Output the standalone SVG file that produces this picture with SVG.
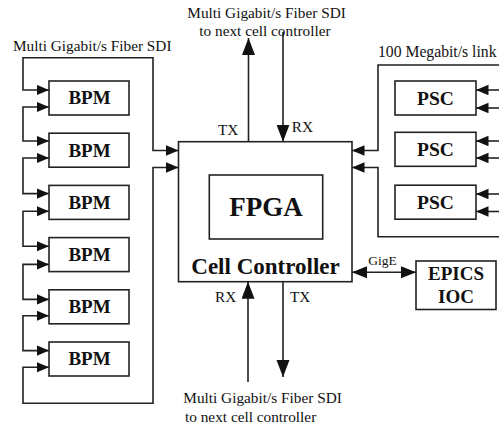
<svg xmlns="http://www.w3.org/2000/svg" width="499" height="427" viewBox="0 0 499 427">
<style>
.box{fill:#fff;stroke:#222;stroke-width:1.6}
.ln{fill:none;stroke:#222;stroke-width:1.6}
.t{font-size:15.3px;fill:#111}
.b{font-weight:bold;fill:#111;text-anchor:middle}
</style>
<defs>
<marker id="a" markerUnits="userSpaceOnUse" markerWidth="13" markerHeight="11" refX="12.5" refY="5.25" orient="auto-start-reverse"><path d="M0,0 L12.5,5.25 L0,10.5 z" fill="#111"/></marker>
<marker id="A" markerUnits="userSpaceOnUse" markerWidth="18" markerHeight="14" refX="17" refY="6.5" orient="auto-start-reverse"><path d="M0,0 L17,6.5 L0,13 z" fill="#111"/></marker>
<marker id="g" markerUnits="userSpaceOnUse" markerWidth="16" markerHeight="12" refX="15" refY="6" orient="auto-start-reverse"><path d="M0,0 L15,6 L0,12 z" fill="#111"/></marker>
</defs>

<g id="connectors">
<path class="ln" d="M49,90 H23 V57.7 H153 V150.5 H178.5" marker-start="url(#a)" marker-end="url(#a)"/>
<path class="ln" d="M49,107 H23 V141 H49" marker-start="url(#a)" marker-end="url(#a)"/>
<path class="ln" d="M49,158 H23 V193.6 H49" marker-start="url(#a)" marker-end="url(#a)"/>
<path class="ln" d="M49,211.2 H23 V246.2 H49" marker-start="url(#a)" marker-end="url(#a)"/>
<path class="ln" d="M49,264.4 H23 V299.4 H49" marker-start="url(#a)" marker-end="url(#a)"/>
<path class="ln" d="M49,315.8 H23 V350.6 H49" marker-start="url(#a)" marker-end="url(#a)"/>
<path class="ln" d="M49,367.2 H23 V403.3 H153 V167.5 H178.5" marker-start="url(#a)" marker-end="url(#a)"/>
<path class="ln" d="M499,65 H378 V150.5 H352" marker-end="url(#a)"/>
<path class="ln" d="M499,236.7 H378 V167.5 H352" marker-end="url(#a)"/>
<path class="ln" d="M499,90 H476" marker-end="url(#a)"/>
<path class="ln" d="M499,108 H476" marker-end="url(#a)"/>
<path class="ln" d="M499,141 H476" marker-end="url(#a)"/>
<path class="ln" d="M499,158 H476" marker-end="url(#a)"/>
<path class="ln" d="M499,194 H476" marker-end="url(#a)"/>
<path class="ln" d="M499,211.5 H476" marker-end="url(#a)"/>
<path class="ln" d="M248.5,141.7 V38" marker-end="url(#A)"/>
<path class="ln" d="M283,32 V141.7" marker-end="url(#A)"/>
<path class="ln" d="M248,382 V281.7" marker-end="url(#A)"/>
<path class="ln" d="M283,281.7 V377" marker-end="url(#A)"/>
<path class="ln" d="M352,272.3 H416" marker-start="url(#g)" marker-end="url(#g)"/>
</g>

<g font-family="Liberation Serif, Times New Roman, DejaVu Serif, serif">
<g id="cell-controller">
<rect class="box" x="178.5" y="141.7" width="173.5" height="140"/>
<text class="b" x="265.5" y="273.5" font-size="23">Cell Controller</text>
</g>
<g id="fpga">
<rect class="box" x="209.3" y="175" width="113.4" height="64"/>
<text class="b" x="266" y="216" font-size="27">FPGA</text>
</g>

<g id="bpm1"><rect class="box" x="49" y="81" width="80" height="34"/><text class="b" x="89.5" y="104.3" font-size="19">BPM</text></g>
<g id="bpm2"><rect class="box" x="49" y="133.2" width="80" height="34"/><text class="b" x="89.5" y="156.5" font-size="19">BPM</text></g>
<g id="bpm3"><rect class="box" x="49" y="185.4" width="80" height="34"/><text class="b" x="89.5" y="208.7" font-size="19">BPM</text></g>
<g id="bpm4"><rect class="box" x="49" y="237.6" width="80" height="34"/><text class="b" x="89.5" y="260.9" font-size="19">BPM</text></g>
<g id="bpm5"><rect class="box" x="49" y="289.8" width="80" height="34"/><text class="b" x="89.5" y="313.1" font-size="19">BPM</text></g>
<g id="bpm6"><rect class="box" x="49" y="342" width="80" height="34"/><text class="b" x="89.5" y="365.3" font-size="19">BPM</text></g>

<g id="psc1"><rect class="box" x="395" y="81" width="81" height="34"/><text class="b" x="435.5" y="104.5" font-size="19.5">PSC</text></g>
<g id="psc2"><rect class="box" x="395" y="132.3" width="81" height="34"/><text class="b" x="435.5" y="155.8" font-size="19.5">PSC</text></g>
<g id="psc3"><rect class="box" x="395" y="185.2" width="81" height="34"/><text class="b" x="435.5" y="208.7" font-size="19.5">PSC</text></g>

<g id="epics-ioc">
<rect class="box" x="416" y="261" width="80" height="48.5"/>
<text class="b" x="456" y="280" font-size="19">EPICS</text>
<text class="b" x="456" y="303.3" font-size="19">IOC</text>
</g>

<g id="labels">
<text class="t" x="13" y="50.7">Multi Gigabit/s Fiber SDI</text>
<text class="t" x="378" y="57" style="font-size:15.7px">100 Megabit/s link</text>
<text class="t" x="187.3" y="18.3">Multi Gigabit/s Fiber SDI</text>
<text class="t" x="199.3" y="35.7">to next cell controller</text>
<text class="t" x="218" y="135">TX</text>
<text class="t" x="291.7" y="131.7">RX</text>
<text class="t" x="215" y="301.7">RX</text>
<text class="t" x="290" y="301.7">TX</text>
<text class="t" x="368.3" y="265" style="font-size:13.5px">GigE</text>
<text class="t" x="183.3" y="403.3">Multi Gigabit/s Fiber SDI</text>
<text class="t" x="185" y="421.5">to next cell controller</text>
</g>
</g>
</svg>
